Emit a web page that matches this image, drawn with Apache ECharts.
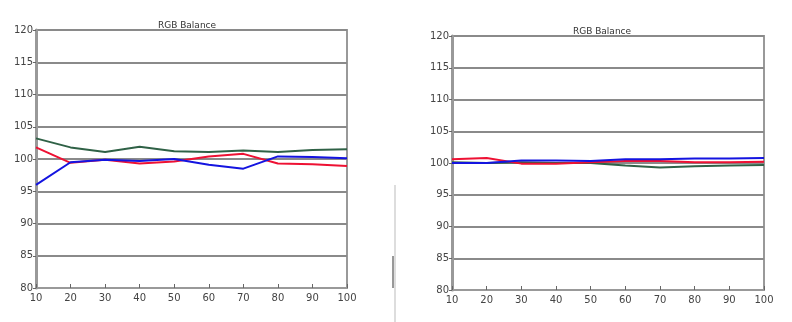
<!DOCTYPE html>
<html>
<head>
<meta charset="utf-8">
<script src="https://cdn.jsdelivr.net/npm/echarts@6/dist/echarts.min.js"></script>
<style>
  html, body { margin: 0; padding: 0; background: #fff; }
  #chart { width: 792px; height: 322px; }
</style>
</head>
<body>
<div id="chart"></div>
<script>
// RGB Balance, two panels
var levels = [10, 20, 30, 40, 50, 60, 70, 80, 90, 100];

var leftGreen = [103.2, 101.8, 101.1, 101.9, 101.2, 101.1, 101.3, 101.1, 101.4, 101.5];
var leftRed   = [101.8, 99.4, 99.9, 99.3, 99.6, 100.4, 100.8, 99.3, 99.2, 98.9];
var leftBlue  = [96.0, 99.5, 99.9, 99.7, 100.0, 99.1, 98.5, 100.4, 100.3, 100.1];

var rightGreen = [100.1, 100.0, 100.1, 100.0, 100.0, 99.6, 99.3, 99.5, 99.6, 99.7];
var rightRed   = [100.6, 100.8, 99.9, 99.9, 100.1, 100.3, 100.3, 100.1, 100.1, 100.2];
var rightBlue  = [100.0, 100.0, 100.4, 100.4, 100.3, 100.6, 100.6, 100.7, 100.7, 100.8];

var titles = ['RGB Balance', 'RGB Balance'];

function pairs(ys) {
    return levels.map(function (x, i) { return [x, ys[i]]; });
}

function xAxisFor(idx) {
    return {
        type: 'value', gridIndex: idx, min: 10, max: 100, interval: 10,
        axisLine: { lineStyle: { color: '#999', width: 2 } },
        axisTick: { show: true, inside: true, length: 4, lineStyle: { color: '#666' } },
        axisLabel: { color: '#444', fontSize: 10, fontFamily: 'DejaVu Sans', margin: 5 },
        splitLine: { show: false }
    };
}

function yAxisFor(idx) {
    return {
        type: 'value', gridIndex: idx, min: 80, max: 120, interval: 5,
        axisLine: { show: true, lineStyle: { color: '#999', width: 3 } },
        axisTick: { show: true, length: 3, lineStyle: { color: '#666' } },
        axisLabel: { color: '#444', fontSize: 10, fontFamily: 'DejaVu Sans', margin: 3 },
        splitLine: { show: true, lineStyle: { color: '#8a8a8a', width: 2 } }
    };
}

function line(name, color, xi, data) {
    return {
        name: name, type: 'line', xAxisIndex: xi, yAxisIndex: xi,
        data: pairs(data), symbol: 'none',
        lineStyle: { color: color, width: 2 }
    };
}

var chart = echarts.init(document.getElementById('chart'));
chart.setOption({
    animation: false,
    title: [
        { text: titles[0], left: 182, top: 16, textAlign: 'center',
          textStyle: { fontSize: 9, fontWeight: 'normal', color: '#333', fontFamily: 'DejaVu Sans' } },
        { text: titles[1], left: 597, top: 22, textAlign: 'center',
          textStyle: { fontSize: 9, fontWeight: 'normal', color: '#333', fontFamily: 'DejaVu Sans' } }
    ],
    grid: [
        { left: 36, right: 445, top: 30, bottom: 34, show: true, borderColor: '#999', borderWidth: 2 },
        { left: 452, right: 28, top: 36, bottom: 32, show: true, borderColor: '#999', borderWidth: 2 }
    ],
    xAxis: [xAxisFor(0), xAxisFor(1)],
    yAxis: [yAxisFor(0), yAxisFor(1)],
    graphic: [
        { type: 'line', shape: { x1: 395, y1: 185, x2: 395, y2: 322 },
          style: { stroke: '#bbb', lineWidth: 1 } },
        { type: 'line', shape: { x1: 393, y1: 256, x2: 393, y2: 288 },
          style: { stroke: '#333', lineWidth: 1 } }
    ],
    series: [
        line('Green', '#2f6146', 0, leftGreen),
        line('Red', '#ee1133', 0, leftRed),
        line('Blue', '#1414e0', 0, leftBlue),
        line('Green', '#2f6146', 1, rightGreen),
        line('Red', '#ee1133', 1, rightRed),
        line('Blue', '#1414e0', 1, rightBlue)
    ]
});
</script>
</body>
</html>
